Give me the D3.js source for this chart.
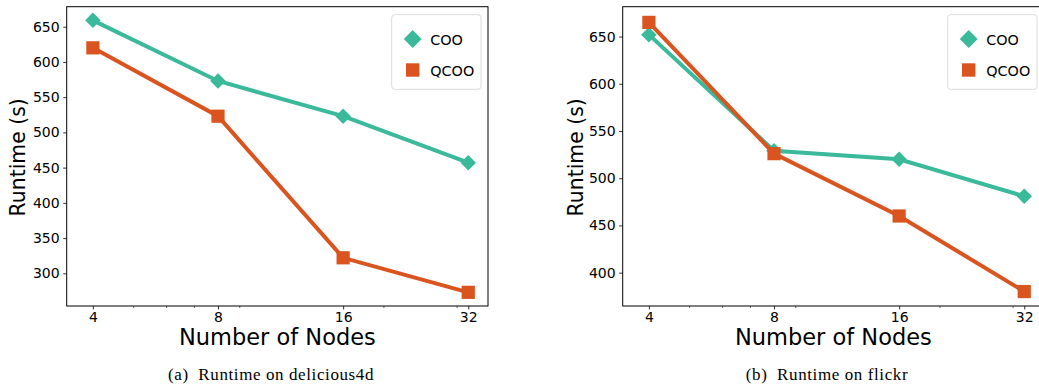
<!DOCTYPE html>
<html><head><meta charset="utf-8">
<script src="https://cdn.jsdelivr.net/npm/d3@7"></script>
<style>
  body { margin: 0; background: #fff; }
  text { font-family: "DejaVu Sans", sans-serif; fill: #000; }
  .caption { font-family: "Liberation Serif", serif; }
</style>
</head>
<body>
<svg id="chart" width="1039" height="387"></svg>
<script>

var nodes = [4, 8, 16, 32];
var minorTicks = [5, 6, 7, 9, 20, 30];
var seriesNames = ["COO", "QCOO"];

// delicious4d
var cooA = [659, 573, 523, 457];
var qcooA = [620, 523, 322, 273];
var yTicksA = [300, 350, 400, 450, 500, 550, 600, 650];

// flickr
var cooB = [652, 529, 520, 481];
var qcooB = [665, 526, 460, 380];
var yTicksB = [400, 450, 500, 550, 600, 650];

var teal = "#3bb99b", orange = "#d9541e";

var svg = d3.select("#chart");

function panel(p) {
  var g = svg.append("g");
  var left = p.left, right = p.left + 421.3, top = 6.7, bottom = 306;

  var x = d3.scaleLog().base(2).domain([3.46, 35.7]).range([left, right]);
  var y = d3.scaleLinear().domain(p.ydom).range([bottom, top]);

  // axes
  g.append("g")
    .attr("transform", "translate(" + left + ",0)")
    .call(d3.axisLeft(y).tickValues(p.yticks).tickSize(3.5).tickPadding(3.5).tickFormat(d3.format("d")))
    .call(function(a) {
      a.select(".domain").remove();
      a.selectAll("text").style("font-size", "14px").style("font-family", "DejaVu Sans");
      a.selectAll("line").attr("stroke-width", 0.8);
    });

  g.append("g")
    .attr("transform", "translate(0," + bottom + ")")
    .call(d3.axisBottom(x).tickValues(minorTicks).tickSize(2).tickFormat(""))
    .call(function(a) {
      a.select(".domain").remove();
      a.selectAll("line").attr("stroke-width", 0.6);
    });

  g.append("g")
    .attr("transform", "translate(0," + bottom + ")")
    .call(d3.axisBottom(x).tickValues(nodes).tickSize(3.5).tickPadding(3).tickFormat(d3.format("d")))
    .call(function(a) {
      a.select(".domain").remove();
      a.selectAll("text").style("font-size", "14px").style("font-family", "DejaVu Sans");
      a.selectAll("line").attr("stroke-width", 0.8);
    });

  g.append("rect")
    .attr("x", left).attr("y", top)
    .attr("width", right - left).attr("height", bottom - top)
    .attr("fill", "none").attr("stroke", "#000").attr("stroke-width", 1);

  // lines
  var line = d3.line().x(function(d, i) { return x(nodes[i]); }).y(function(d) { return y(d); });

  g.append("path").datum(p.coo)
    .attr("d", line).attr("fill", "none").attr("stroke", teal).attr("stroke-width", 4);
  g.selectAll(".dia").data(p.coo).enter().append("path")
    .attr("d", d3.symbol().type(d3.symbolSquare).size(120))
    .attr("transform", function(d, i) { return "translate(" + x(nodes[i]) + "," + y(d) + ") rotate(45)"; })
    .attr("fill", teal);

  g.append("path").datum(p.qcoo)
    .attr("d", line).attr("fill", "none").attr("stroke", orange).attr("stroke-width", 4);
  g.selectAll(".sq").data(p.qcoo).enter().append("rect")
    .attr("x", function(d, i) { return x(nodes[i]) - 6.6; })
    .attr("y", function(d) { return y(d) - 6.6; })
    .attr("width", 13.2).attr("height", 13.2)
    .attr("fill", orange);

  // legend
  var lx = right - 96.3;
  g.append("rect")
    .attr("x", lx).attr("y", 14.7).attr("width", 89.3).attr("height", 74.6)
    .attr("rx", 3).attr("fill", "#fff").attr("fill-opacity", 0.8)
    .attr("stroke", "#dcdcdc").attr("stroke-width", 1);
  g.append("path")
    .attr("d", d3.symbol().type(d3.symbolSquare).size(160))
    .attr("transform", "translate(" + (lx + 21) + ",39) rotate(45)")
    .attr("fill", teal);
  g.append("rect")
    .attr("x", lx + 14.3).attr("y", 63.3).attr("width", 13.4).attr("height", 13.4)
    .attr("fill", orange);
  g.selectAll(".lt").data(seriesNames).enter().append("text")
    .attr("x", lx + 38.5).attr("y", function(d, i) { return 44.5 + i * 31; })
    .style("font-size", "14.4px")
    .text(function(d) { return d; });

  // labels
  g.append("text")
    .attr("transform", "translate(" + p.ylabx + "," + ((top + bottom) / 2 + 1) + ") rotate(-90)")
    .attr("text-anchor", "middle")
    .style("font-size", "20.4px")
    .text("Runtime (s)");

  g.append("text")
    .attr("x", (left + right) / 2).attr("y", 345)
    .attr("text-anchor", "middle")
    .style("font-size", "22.5px")
    .text("Number of Nodes");

  g.append("text")
    .attr("class", "caption")
    .attr("x", p.capx).attr("y", 380)
    .attr("text-anchor", "middle")
    .style("font-size", "17px")
    .style("letter-spacing", "0.6px")
    .attr("xml:space", "preserve")
    .text(p.caption);
}

panel({ left: 66.7, ydom: [253.6, 678.4], yticks: yTicksA, coo: cooA, qcoo: qcooA,
        ylabx: 25, capx: 271, caption: "(a)  Runtime on delicious4d" });
panel({ left: 622.7, ydom: [364.7, 681.6], yticks: yTicksB, coo: cooB, qcoo: qcooB,
        ylabx: 583, capx: 827, caption: "(b)  Runtime on flickr" });

</script>
</body></html>
